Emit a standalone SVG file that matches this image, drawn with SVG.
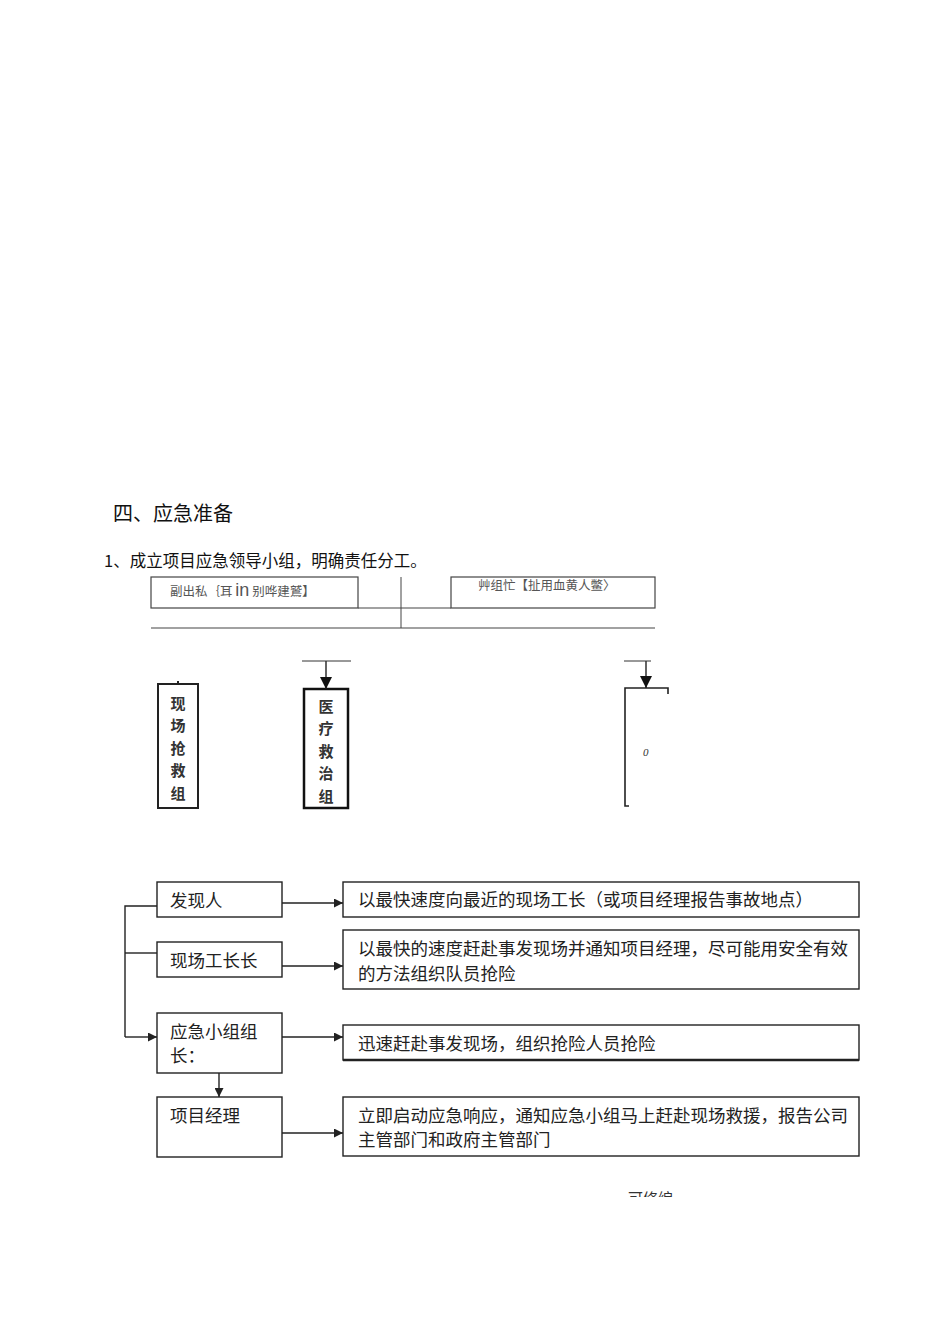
<svg xmlns="http://www.w3.org/2000/svg" width="950" height="1344" viewBox="0 0 950 1344">
<style>
.s{font-family:"Noto Sans CJK SC","Liberation Sans",sans-serif;fill:#111}
.t{font-family:"Liberation Serif","Noto Sans CJK SC",serif;font-size:17.5px;fill:#222}
.b{fill:#fff;stroke:#222;stroke-width:1.4}
.l{stroke:#222;stroke-width:1.4;fill:none}
.g{font-family:"Noto Sans CJK SC","Liberation Sans",sans-serif;font-size:12.5px;fill:#555}
.v{font-family:"Noto Sans CJK SC",sans-serif;font-size:15px;font-weight:bold;fill:#333;text-anchor:middle}
</style>
<defs>
<marker id="a" viewBox="0 0 10 10" refX="10" refY="5" markerWidth="9" markerHeight="9" markerUnits="userSpaceOnUse" orient="auto"><path d="M0,0L10,5L0,10z" fill="#222"/></marker>
<marker id="a2" viewBox="0 0 10 10" refX="10" refY="5" markerWidth="12" markerHeight="12" markerUnits="userSpaceOnUse" orient="auto"><path d="M0,0L10,5L0,10z" fill="#111"/></marker>
<clipPath id="cf"><rect x="0" y="0" width="950" height="1197"/></clipPath>
</defs>
<rect width="950" height="1344" fill="#fff"/>
<text class="s" x="113" y="521" font-size="20">四、应急准备</text>
<text class="s" x="104" y="567" font-size="16.5">1、成立项目应急领导小组，明确责任分工。</text>

<g id="table">
<rect x="151" y="577" width="207" height="31" fill="none" stroke="#444" stroke-width="1.2"/>
<rect x="451" y="577" width="204" height="31" fill="none" stroke="#444" stroke-width="1.2"/>
<line x1="358" y1="608" x2="451" y2="608" stroke="#444" stroke-width="1.2"/>
<line x1="401" y1="577" x2="401" y2="628" stroke="#444" stroke-width="1"/>
<line x1="151" y1="628" x2="655" y2="628" stroke="#444" stroke-width="1.2"/>
<text class="g" x="170" y="596">副出私｛耳 <tspan font-size="18" font-family="Liberation Sans,sans-serif">in</tspan> 别哗建鷲】</text>
<text class="g" x="478" y="590">艸组忙【扯用血黄人鳖〉</text>
</g>

<g id="xianchang">
<rect x="158" y="684" width="40" height="124" fill="#fff" stroke="#222" stroke-width="2"/>
<text class="v" x="178" y="709">现</text>
<text class="v" x="178" y="731">场</text>
<text class="v" x="178" y="754">抢</text>
<text class="v" x="178" y="776">救</text>
<text class="v" x="178" y="799">组</text>
</g>
<g id="yiliao">
<rect x="304" y="689" width="44" height="119" fill="#fff" stroke="#111" stroke-width="2.5"/>
<text class="v" x="326" y="712">医</text>
<text class="v" x="326" y="734">疗</text>
<text class="v" x="326" y="757">救</text>
<text class="v" x="326" y="779">治</text>
<text class="v" x="326" y="802">组</text>
</g>
<g id="third">
<path d="M668,694V688H625V806H629" fill="none" stroke="#222" stroke-width="1.6"/>
<text x="643" y="756" font-family="Liberation Serif,serif" font-style="italic" font-size="11" fill="#333">0</text>
</g>

<g id="n1"><rect class="b" x="157" y="882" width="125" height="35"/><text class="t" x="170" y="907">发现人</text></g>
<g id="n2"><rect class="b" x="157" y="942" width="125" height="35"/><text class="t" x="170" y="967">现场工长长</text></g>
<g id="n3"><rect class="b" x="157" y="1013" width="125" height="60"/><text class="t" x="170" y="1038">应急小组组</text><text class="t" x="170" y="1062">长：</text></g>
<g id="n4"><rect class="b" x="157" y="1097" width="125" height="60"/><text class="t" x="170" y="1122">项目经理</text></g>

<g id="r1"><rect class="b" x="343" y="882" width="516" height="35"/><text class="t" x="358" y="906">以最快速度向最近的现场工长（或项目经理报告事故地点）</text></g>
<g id="r2"><rect class="b" x="343" y="930" width="516" height="59"/><text class="t" x="358" y="955">以最快的速度赶赴事发现场并通知项目经理，尽可能用安全有效</text><text class="t" x="358" y="980">的方法组织队员抢险</text></g>
<g id="r3"><rect class="b" x="343" y="1025" width="516" height="35"/><line x1="343" y1="1060" x2="859" y2="1060" stroke="#222" stroke-width="2.4"/><text class="t" x="358" y="1050">迅速赶赴事发现场，组织抢险人员抢险</text></g>
<g id="r4"><rect class="b" x="343" y="1097" width="516" height="59"/><text class="t" x="358" y="1122">立即启动应急响应，通知应急小组马上赶赴现场救援，报告公司</text><text class="t" x="358" y="1146">主管部门和政府主管部门</text></g>

<g id="connectors">
<line x1="326" y1="661" x2="326" y2="689" class="l" marker-end="url(#a2)"/>
<line x1="302" y1="661" x2="351" y2="661" stroke="#333" stroke-width="1"/>
<line x1="646" y1="661" x2="646" y2="688" class="l" marker-end="url(#a2)"/>
<line x1="624" y1="661" x2="651" y2="661" stroke="#333" stroke-width="1"/>
<line x1="178" y1="684" x2="178" y2="681" stroke="#222" stroke-width="2"/>
<path d="M157,906H125V1037" class="l"/>
<line x1="125" y1="953" x2="157" y2="953" class="l"/>
<line x1="125" y1="1037" x2="157" y2="1037" class="l" marker-end="url(#a)"/>
<line x1="219" y1="1073" x2="219" y2="1097" class="l" marker-end="url(#a)"/>
<line x1="282" y1="903" x2="343" y2="903" class="l" marker-end="url(#a)"/>
<line x1="282" y1="966" x2="343" y2="966" class="l" marker-end="url(#a)"/>
<line x1="282" y1="1037" x2="343" y2="1037" class="l" marker-end="url(#a)"/>
<line x1="282" y1="1133" x2="343" y2="1133" class="l" marker-end="url(#a)"/>
</g>

<text x="628" y="1204" clip-path="url(#cf)" font-family="Liberation Serif,Noto Sans CJK SC,serif" font-size="15" fill="#333">可修编</text>
</svg>
